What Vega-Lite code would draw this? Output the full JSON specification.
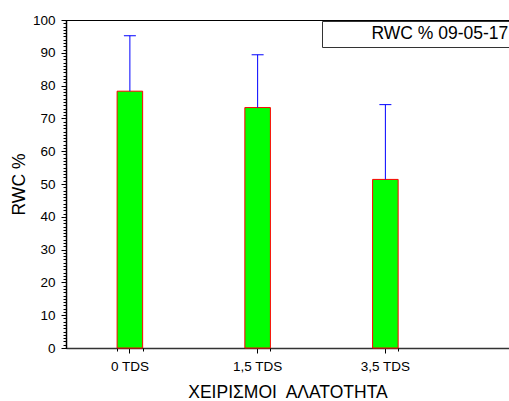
{
  "$schema": "https://vega.github.io/schema/vega-lite/v6.json",
  "autosize": "none",
  "width": 443,
  "height": 328,
  "padding": {"left": 66, "top": 20, "right": 0, "bottom": 53},
  "background": "white",
  "config": {
    "font": "Liberation Sans",
    "view": {"stroke": "black", "strokeWidth": 1},
    "axis": {"grid": false, "tickColor": "black", "labelColor": "black", "titleColor": "black", "titleFontWeight": "normal"}
  },
  "data": {
    "values": [
      {"trt": "0 TDS", "rwc": 78.3, "upper": 95.2},
      {"trt": "1,5 TDS", "rwc": 73.3, "upper": 89.4},
      {"trt": "3,5 TDS", "rwc": 51.4, "upper": 74.2}
    ]
  },
  "layer": [
    {
      "mark": {"type": "bar", "stroke": "#ff0000", "strokeWidth": 1, "opacity": 1},
      "encoding": {
        "x": {
          "field": "trt", "type": "nominal",
          "scale": {"domain": ["0 TDS", "1,5 TDS", "3,5 TDS", " "], "range": [0, 511], "paddingInner": 0.8, "paddingOuter": 0.4},
          "axis": {"orient": "bottom", "title": "ΧΕΙΡΙΣΜΟΙ\u00a0 ΑΛΑΤΟΤΗΤΑ", "titleFontSize": 17.5, "titlePadding": 11, "titleX": 221.5, "titleAnchor": "middle", "labelFontSize": 13.5, "labelAngle": 0, "labelPadding": 6, "tickSize": 5, "domainColor": "#333333", "domainWidth": 1.5, "labelBound": false}
        },
        "y": {
          "field": "rwc", "type": "quantitative",
          "scale": {"domain": [0, 100], "nice": false},
          "axis": {"orient": "left", "title": "RWC %", "titleFontSize": 17.5, "titlePadding": 4, "values": [0, 10, 20, 30, 40, 50, 60, 70, 80, 90, 100], "labelFontSize": 13.5, "labelPadding": 6, "tickSize": 5, "domainColor": "black", "domainWidth": 1.5}
        },
        "color": {
          "datum": "RWC % 09-05-17",
          "scale": {"range": ["#00ff00"]},
          "legend": {"orient": "none", "legendX": 256, "legendY": 1, "title": null, "strokeColor": "#333333", "padding": 4, "symbolOpacity": 0, "symbolStrokeWidth": 0, "symbolSize": 100, "labelFontSize": 17.5, "labelOffset": 28, "labelColor": "black", "labelLimit": 300}
        }
      }
    },
    {
      "mark": {"type": "rule", "color": "#0000ff", "strokeWidth": 1},
      "encoding": {
        "x": {
          "field": "trt", "type": "nominal",
          "axis": {"orient": "bottom", "title": null, "labels": false, "domain": false, "tickBand": "extent", "tickSize": 3}
        },
        "y": {
          "field": "rwc", "type": "quantitative",
          "axis": {"orient": "left", "title": null, "labels": false, "domain": false, "tickSize": 3, "values": [0,1,2,3,4,5,6,7,8,9,10,11,12,13,14,15,16,17,18,19,20,21,22,23,24,25,26,27,28,29,30,31,32,33,34,35,36,37,38,39,40,41,42,43,44,45,46,47,48,49,50,51,52,53,54,55,56,57,58,59,60,61,62,63,64,65,66,67,68,69,70,71,72,73,74,75,76,77,78,79,80,81,82,83,84,85,86,87,88,89,90,91,92,93,94,95,96,97,98,99,100]}
        },
        "y2": {"field": "upper"}
      }
    },
    {
      "mark": {"type": "tick", "color": "#0000ff", "size": 12, "thickness": 1, "opacity": 1},
      "encoding": {
        "x": {"field": "trt", "type": "nominal", "axis": null},
        "y": {"field": "upper", "type": "quantitative", "axis": null}
      }
    }
  ],
  "resolve": {"axis": {"x": "independent", "y": "independent"}}
}
